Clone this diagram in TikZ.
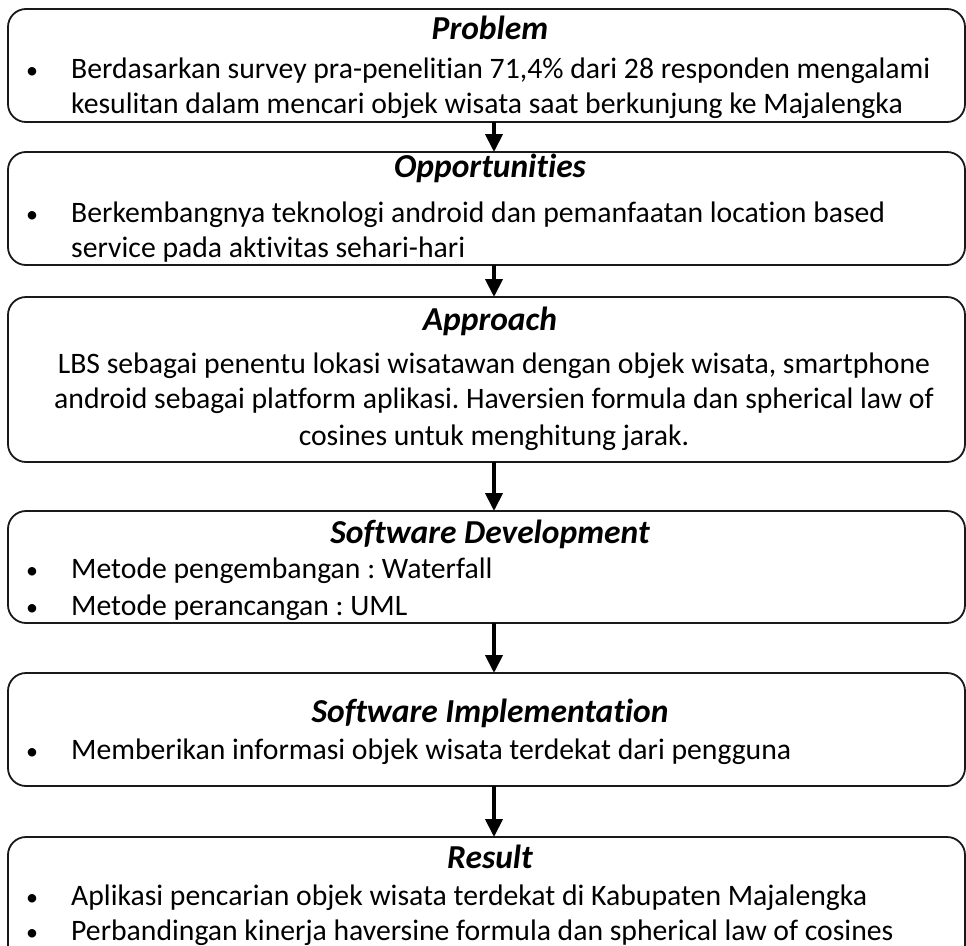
\documentclass[tikz,border=0pt]{standalone}
\usepackage{fontspec}
\setmainfont{Carlito}[RawFeature={-liga;-clig;-dlig}]
\usetikzlibrary{arrows.meta}
\frenchspacing
\begin{document}
\begin{tikzpicture}[x=1pt,y=-1pt,
  box/.style={draw=black!90,line width=1.8pt,rounded corners=18pt,inner sep=0pt},
  ttl/.style={anchor=base,font=\fontsize{33.5}{40}\selectfont\bfseries\itshape,inner sep=0pt},
  txt/.style={anchor=base west,font=\fontsize{29.7}{35}\selectfont,inner sep=0pt},
  ctxt/.style={anchor=base,font=\fontsize{29.7}{35}\selectfont,inner sep=0pt},
  bul/.style={anchor=base,font=\fontsize{24}{30}\selectfont,inner sep=0pt},
  arr/.style={line width=4pt,-{Triangle[width=17pt,length=18pt]}}]
\useasboundingbox (0,0) rectangle (966,945);
% boxes
\draw[box] (8,9) rectangle (965,122) node[pos=.5] (b1) {};
\draw[box] (8,152) rectangle (965,265) node[pos=.5] (b2) {};
\draw[box] (8,297) rectangle (965,462) node[pos=.5] (b3) {};
\draw[box] (8,511) rectangle (965,623) node[pos=.5] (b4) {};
\draw[box] (8,673) rectangle (965,786) node[pos=.5] (b5) {};
\draw[box] (8,837) rectangle (965,965) node[pos=.5] (b6) {};
% arrow ends
\coordinate (b1s) at (494,122);
\coordinate (b2n) at (494,152);
\coordinate (b2s) at (494,265);
\coordinate (b3n) at (494,297);
\coordinate (b3s) at (494,462);
\coordinate (b4n) at (494,511);
\coordinate (b4s) at (494,623);
\coordinate (b5n) at (494,673);
\coordinate (b5s) at (494,786);
\coordinate (b6n) at (494,837);
\draw[arr] (b1s) -- (b2n);
\draw[arr] (b2s) -- (b3n);
\draw[arr] (b3s) -- (b4n);
\draw[arr] (b4s) -- (b5n);
\draw[arr] (b5s) -- (b6n);
% box 1
\node[ttl] (t1) at (490,39) {Problem};
\node[bul] (u11) at (32,78) {•};
\node[txt] (l11) at (71,78) {Berdasarkan survey pra-penelitian 71,4\% dari 28 responden mengalami};
\node[txt] (l12) at (71,113) {kesulitan dalam mencari objek wisata saat berkunjung ke Majalengka};
% box 2
\node[ttl] (t2) at (490,177) {Opportunities};
\node[bul] (u21) at (32,222) {•};
\node[txt] (l21) at (71,222) {Berkembangnya teknologi android dan pemanfaatan location based};
\node[txt] (l22) at (71,257) {service pada aktivitas sehari-hari};
% box 3
\node[ttl] (t3) at (490,330) {Approach};
\node[ctxt] (l31) at (494,373) {LBS sebagai penentu lokasi wisatawan dengan objek wisata, smartphone};
\node[ctxt] (l32) at (494,408) {android sebagai platform aplikasi. Haversien formula dan spherical law of};
\node[ctxt] (l33) at (494,445) {cosines untuk menghitung jarak.};
% box 4
\node[ttl] (t4) at (490,543) {Software Development};
\node[bul] (u41) at (32,578) {•};
\node[txt] (l41) at (71,578) {Metode pengembangan : Waterfall};
\node[bul] (u42) at (32,615) {•};
\node[txt] (l42) at (71,615) {Metode perancangan : UML};
% box 5
\node[ttl] (t5) at (490,722) {Software Implementation};
\node[bul] (u51) at (32,759) {•};
\node[txt] (l51) at (71,759) {Memberikan informasi objek wisata terdekat dari pengguna};
% box 6
\node[ttl] (t6) at (490,868) {Result};
\node[bul] (u61) at (32,905) {•};
\node[txt] (l61) at (71,905) {Aplikasi pencarian objek wisata terdekat di Kabupaten Majalengka};
\node[bul] (u62) at (32,940) {•};
\node[txt] (l62) at (71,940) {Perbandingan kinerja haversine formula dan spherical law of cosines};
\end{tikzpicture}
\end{document}
